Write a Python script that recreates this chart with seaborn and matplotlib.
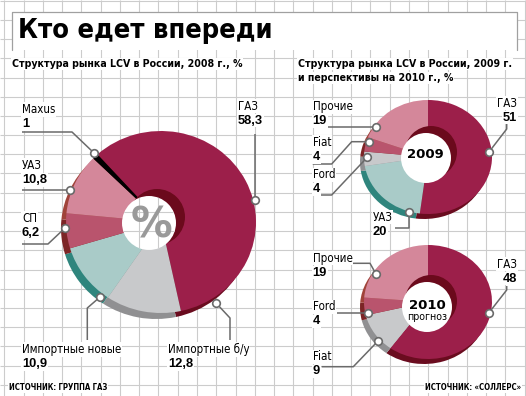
import numpy as np
import matplotlib
matplotlib.use('Agg')
import matplotlib.pyplot as plt
from matplotlib.patches import Ellipse, Rectangle
from matplotlib import font_manager
import seaborn as sns

# данные
labels_2008 = ['ГАЗ', 'Импортные б/у', 'Импортные новые', 'СП', 'УАЗ', 'Maxus']
values_2008 = [58.3, 12.8, 10.9, 6.2, 10.8, 1]
text_2008 = ['58,3', '12,8', '10,9', '6,2', '10,8', '1']

labels_2009 = ['ГАЗ', 'УАЗ', 'Ford', 'Fiat', 'Прочие']
values_2009 = [51, 20, 4, 4, 19]

labels_2010 = ['ГАЗ', 'Fiat', 'Ford', 'Прочие']
values_2010 = [48, 9, 4, 19]

# цвета
GAZ, GAZ_D = '#9c1f4a', '#6a0c1f'
PINK, PINK_D = '#d4879a', '#a0433a'
ROSE, ROSE_D = '#b9546d', '#7c2526'
TEAL, TEAL_D = '#a9cbc8', '#2f857d'
GREY, GREY_D = '#c8c9cb', '#909092'
WALL = '#6b0a1c'
LINE = '#6a6a6a'

sns.set_style('white')
plt.rcParams['font.family'] = ['Liberation Sans', 'DejaVu Sans']
plt.rcParams['text.color'] = 'black'

# есть ли узкий шрифт
cond = [f for f in font_manager.fontManager.ttflist
        if f.name == 'DejaVu Sans' and 'condensed' in str(f.stretch)]
if cond:
    NARROW = dict(family='DejaVu Sans', fontstretch=cond[0].stretch)
else:
    NARROW = dict(family='Liberation Sans')

W, H = 526, 396
fig = plt.figure(figsize=(5.26, 3.96), dpi=100)
fig.patch.set_facecolor('white')

bg = fig.add_axes([0, 0, 1, 1])
bg.set_xlim(0, W)
bg.set_ylim(H, 0)
bg.axis('off')

# сетка
grid_x = np.arange(4.3, W, 19.27)
grid_y = np.arange(0.7, H, 19.2)
bg.vlines(grid_x, 0, H, color='#cccccc', lw=0.8, zorder=0)
bg.hlines(grid_y, 0, W, color='#cccccc', lw=0.8, zorder=0)

bg.add_patch(Rectangle((11.7, 11.7), 505, 38.3, facecolor='white', edgecolor='none', zorder=1))
bg.plot([11.7, 11.7, 516.7, 516.7], [50, 11.7, 11.7, 50], color='#a0a0a0', lw=0.9, zorder=2)


def donut(vals, cols, side_cols, cx, cy, rx, ry, start, shift, wall, hole, grid=False):
    m = 1.25
    ax = fig.add_axes([(cx - m * rx) / W, (H - cy - m * ry) / H, 2 * m * rx / W, 2 * m * ry / H])
    ax.pie(vals, colors=side_cols, radius=1, center=(shift[0] / rx, -shift[1] / ry),
           startangle=start, counterclock=False, wedgeprops=dict(linewidth=0))
    ax.pie(vals, colors=cols, radius=1, center=(0, 0),
           startangle=start, counterclock=False, wedgeprops=dict(linewidth=0))
    wx, wy, wr = wall
    ax.add_patch(Ellipse(((wx - cx) / rx, -(wy - cy) / ry), 2 * wr / rx, 2 * wr / ry,
                         color=WALL, lw=0))
    hx, hy, hr = hole
    h = Ellipse(((hx - cx) / rx, -(hy - cy) / ry), 2 * hr / rx, 2 * hr / ry, color='white', lw=0)
    ax.add_patch(h)
    if grid:
        for gx in grid_x:
            ln, = ax.plot([gx, gx], [0, H], color='#cccccc', lw=0.8, transform=bg.transData)
            ln.set_clip_path(h)
        for gy in grid_y:
            ln, = ax.plot([0, W], [gy, gy], color='#cccccc', lw=0.8, transform=bg.transData)
            ln.set_clip_path(h)
    ax.set_xlim(-m, m)
    ax.set_ylim(-m, m)
    ax.set_aspect('auto')
    ax.axis('off')
    return ax


donut(values_2008, [GAZ, GREY, TEAL, ROSE, PINK, 'black'],
      [GAZ_D, GREY_D, TEAL_D, ROSE_D, PINK_D, 'black'],
      161, 222, 95, 91, 132, (-5, 6), (157, 217, 28), (149, 223, 27), grid=True)
donut(values_2009, [GAZ, TEAL, GREY, ROSE, PINK],
      [GAZ_D, TEAL_D, GREY_D, ROSE_D, PINK_D],
      428, 157, 64, 57, 90, (-4, 5), (431, 152, 26), (426, 158, 25))
donut(values_2010, [GAZ, GREY, ROSE, PINK],
      [GAZ_D, GREY_D, ROSE_D, PINK_D],
      428, 302, 64, 57, 90, (-4, 5), (431, 301, 26), (427, 307, 25))

ov = fig.add_axes([0, 0, 1, 1])
ov.set_xlim(0, W)
ov.set_ylim(H, 0)
ov.axis('off')
ov.patch.set_alpha(0)

box = dict(facecolor='white', edgecolor='none', pad=0.5)

title_fs = 19.5 if cond else 17.5
ov.text(18, 38.5, 'Кто едет впереди', fontsize=title_fs, fontweight='bold', color='black',
        va='baseline', ha='left', **(NARROW if cond else dict(family='DejaVu Sans')))
sub_fs = 7.6
ov.text(12, 64, 'Структура рынка LCV в России, 2008 г., %', fontsize=sub_fs, fontweight='bold',
        va='center', bbox=box, **NARROW)
ov.text(298, 64, 'Структура рынка LCV в России, 2009 г.', fontsize=sub_fs, fontweight='bold',
        va='center', bbox=box, **NARROW)
ov.text(298, 78, 'и перспективы на 2010 г., %', fontsize=sub_fs, fontweight='bold',
        va='center', bbox=box, **NARROW)

# подписи в центре
ov.text(152, 226, '%', fontsize=30, fontweight='bold', color='#999999',
        family='DejaVu Sans', ha='center', va='center')
ov.text(425, 154.5, '2009', fontsize=9.5, fontweight='bold', family='DejaVu Sans',
        ha='center', va='center')
ov.text(427, 305.5, '2010', fontsize=9.5, fontweight='bold', family='DejaVu Sans',
        ha='center', va='center')
ov.text(427, 317.5, 'прогноз', fontsize=7.6, ha='center', va='center', **NARROW)


def callout(path, label, value, tx, ty, ha='left'):
    xs = [p[0] for p in path]
    ys = [p[1] for p in path]
    ov.plot(xs, ys, color=LINE, lw=1.1, solid_capstyle='butt', zorder=3)
    ov.scatter([xs[-1]], [ys[-1]], s=30, facecolor='white', edgecolor=LINE, lw=1.2, zorder=4)
    ov.text(tx, ty, label, fontsize=8.3, ha=ha, va='center', bbox=box, zorder=5, **NARROW)
    ov.text(tx, ty + 14.5, value, fontsize=9.3, fontweight='bold', ha=ha, va='center',
            family='Liberation Sans', bbox=box, zorder=5)


# 2008
callout([(254.5, 134), (254.5, 200)], labels_2008[0], text_2008[0], 238, 106)
callout([(230, 340), (230, 318), (216, 303)], labels_2008[1], text_2008[1], 168, 349.5)
callout([(87.3, 340), (87.3, 308), (100, 297)], labels_2008[2], text_2008[2], 22, 349.5)
callout([(22, 244), (48, 244), (65, 228)], labels_2008[3], text_2008[3], 22, 218.5)
callout([(22, 190), (70, 190)], labels_2008[4], text_2008[4], 22, 165.5)
callout([(22, 132), (72, 132), (94, 153)], labels_2008[5], text_2008[5], 22, 109.5)

# 2009
callout([(506.7, 124), (506.7, 129), (489, 152)], labels_2009[0], str(values_2009[0]), 517, 103.3, ha='right')
callout([(395, 228.3), (409.3, 228.3), (409.3, 212)], labels_2009[1], str(values_2009[1]), 372.7, 217.3)
callout([(312.7, 195), (331.7, 195), (367.3, 157.3)], labels_2009[2], str(values_2009[2]), 312.7, 175)
callout([(312.7, 164), (331.7, 164), (351.7, 141.7), (369, 141.7)], labels_2009[3], str(values_2009[3]), 312.7, 142.5)
callout([(312.7, 127), (376, 127)], labels_2009[4], str(values_2009[4]), 312.7, 106.7)

# 2010
callout([(506.7, 286), (506.7, 290), (489, 312.7)], labels_2010[0], str(values_2010[0]), 517, 264, ha='right')
callout([(321.7, 366.7), (353.3, 366.7), (378.3, 340.7)], labels_2010[1], str(values_2010[1]), 312.7, 356.8)
callout([(336.7, 312.7), (368.3, 312.7)], labels_2010[2], str(values_2010[2]), 312.7, 306.8)
callout([(350.7, 263.3), (370, 263.3), (376, 274)], labels_2010[3], str(values_2010[3]), 312.7, 258.3)

src_fs = 5.6
ov.text(9, 388, 'ИСТОЧНИК: ГРУППА ГАЗ', fontsize=src_fs, fontweight='bold',
        va='center', bbox=box, **NARROW)
ov.text(521, 388, 'ИСТОЧНИК: «СОЛЛЕРС»', fontsize=src_fs, fontweight='bold',
        va='center', ha='right', bbox=box, **NARROW)

fig.savefig('out.png', dpi=100)
